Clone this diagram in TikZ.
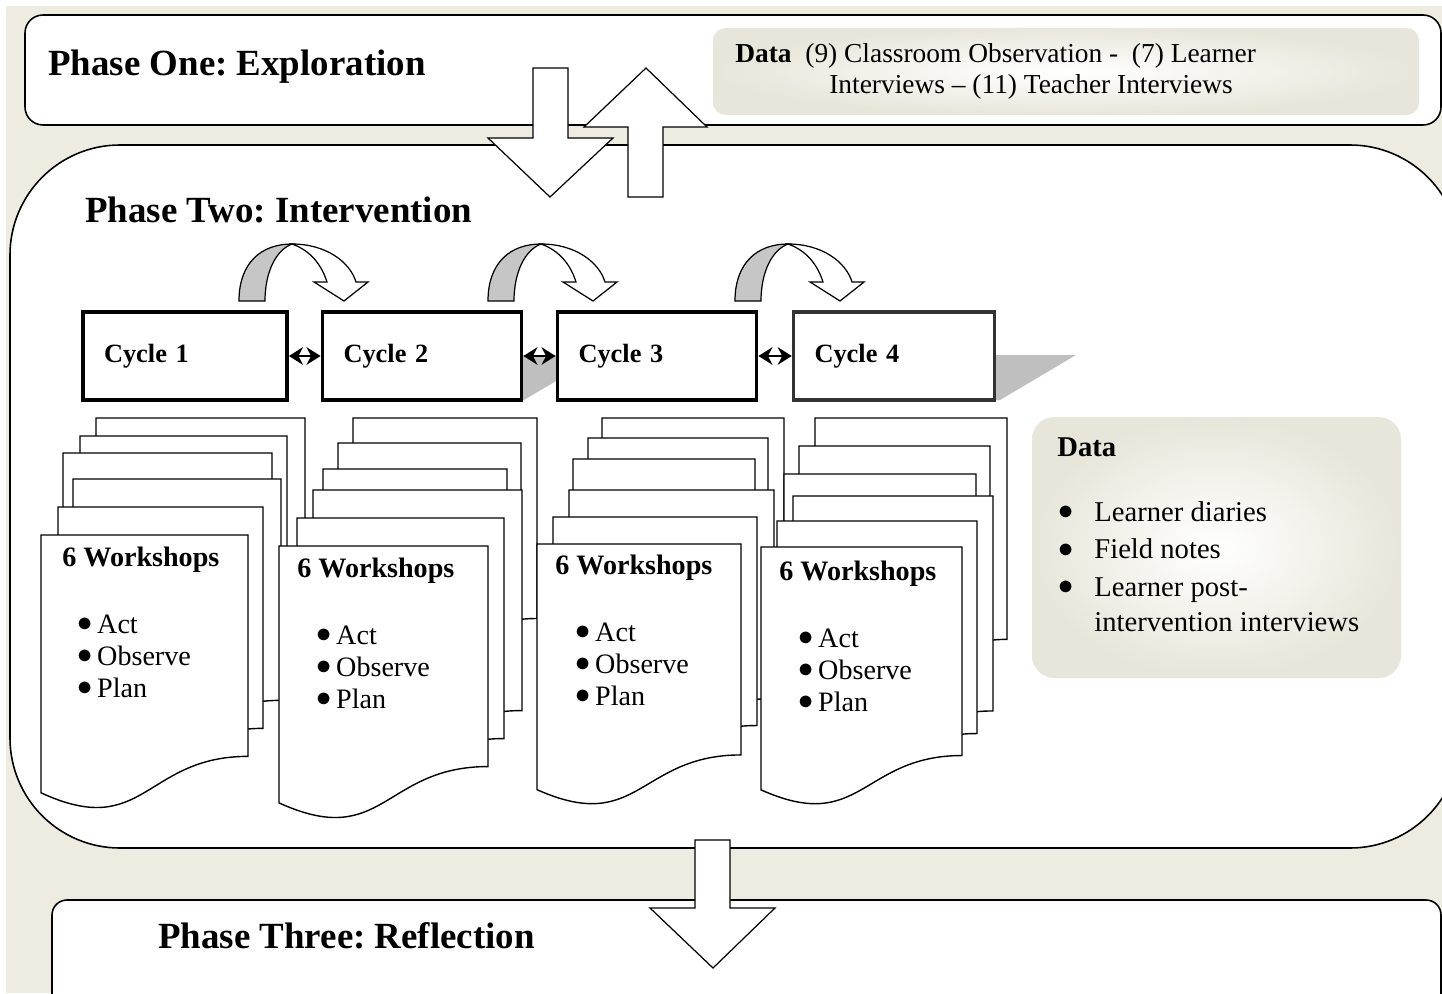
\documentclass[tikz,border=0pt]{standalone}
\usepackage{fontspec}
\setmainfont{Liberation Serif}
\usetikzlibrary{positioning,arrows.meta}
\frenchspacing
\definecolor{tanbg}{HTML}{EEECE1}
\definecolor{tandata}{HTML}{E8E6DA}
\definecolor{ribbon}{HTML}{C6C6C6}
\definecolor{shadowgray}{HTML}{BFBFBF}
\tikzset{
  phasebox/.style={draw,fill=white,line width=0.9pt},
  phasetext/.style={anchor=base west,inner sep=0pt,font=\fontsize{21}{24}\selectfont\bfseries},
  blockarrow/.style={draw,fill=white,line width=0.7pt,line join=miter},
  cyclebox/.style={draw,fill=white,line width=2.2pt,minimum height=1.76cm,inner xsep=0.42cm,align=left,font=\fontsize{15}{18}\selectfont\bfseries},
  page/.style={draw,fill=white,line width=0.8pt},
  wstitle/.style={anchor=base west,inner sep=0pt,font=\fontsize{16}{19}\selectfont\bfseries},
  wsitem/.style={anchor=base west,inner sep=0pt,font=\fontsize{16}{19}\selectfont},
  datatext/.style={anchor=base west,inner sep=0pt,font=\fontsize{15.6}{18}\selectfont},
  dataitem/.style={anchor=base west,inner sep=0pt,font=\fontsize{16.3}{19}\selectfont}
}
% one page of a workshop stack: x, y (top left), width, height
\newcommand\docpage[4]{\draw[page] (#1,#2) -- ({#1+#3},#2) -- ({#1+#3},{#2+0.802*#4})
  .. controls ({#1+0.5*#3},{#2+0.802*#4}) and ({#1+0.5*#3},{#2+1.1075*#4}) .. (#1,{#2+0.934*#4}) -- cycle;}
\newcommand\wsbullet{\raisebox{0.1ex}{$\bullet$}}
\begin{document}
\begin{tikzpicture}[x=0.02cm,y=-0.02cm,>={Stealth[length=8pt,width=10pt]}]
    \useasboundingbox (0,0) rectangle (1442,993);
    \clip (0,0) rectangle (1442,993);
    \fill[tanbg] (6,6) rectangle (1442,993);
    % phases
    \draw[phasebox,rounded corners=0.36cm] (25,15) rectangle (1441,125);
    \shade[inner color=white,outer color=tandata,rounded corners=0.25cm] (713,28) rectangle (1419,115);
    \draw[phasebox,rounded corners=2.2cm] (10,145) rectangle (1460,848);
    \draw[phasebox,rounded corners=0.3cm] (52,900) rectangle (1441,1020);
    \node[phasetext] (p1) at (48,76) {Phase One: Exploration};
    \node[phasetext] (p2) at (85,222) {Phase Two: Intervention};
    \node[phasetext] (p3) at (158,948) {Phase Three: Reflection};
    \node[datatext] (data1) at (735,63) {\textbf{Data}\ \ (9) Classroom Observation -\ \ (7) Learner};
    \node[datatext] (data1b) at (829,94) {Interviews -- (11) Teacher Interviews};
    % block arrows between phases
    \draw[blockarrow] (533,68)--(568,68)--(568,138)--(613,138)--(550,197)--(488,138)--(533,138)--cycle;
    \draw[blockarrow] (628,197)--(663,197)--(663,127)--(707,127)--(646,68)--(584,127)--(628,127)--cycle;
    \draw[blockarrow] (695,840)--(730,840)--(730,908)--(775,908)--(713,968)--(650,908)--(695,908)--cycle;
    % curved arrows over the cycles
    \foreach \dx in {0,249,496}{
      \begin{scope}[shift={(\dx,0)}]
        \filldraw[fill=ribbon,line width=0.7pt] (239,301) .. controls (239,262) and (262,244) .. (292,244)
          .. controls (276,250) and (265,272) .. (265,301) -- cycle;
        \filldraw[fill=white,line width=0.7pt] (292,244) .. controls (326,244) and (350,262) .. (356,282)
          -- (368,282) -- (344,301) -- (314,282) -- (327,282) .. controls (321,263) and (309,250) .. (292,244) -- cycle;
      \end{scope}}
    % shadows
    \fill[shadowgray] (470,355)--(600,355)--(524,400)--(470,400)--cycle;
    \fill[shadowgray] (940,355)--(1076,355)--(1000,400)--(940,400)--cycle;
    % cycles
    \node[cyclebox,text width=3.24cm] (c1) at (185,356) {Cycle 1};
    \node[cyclebox,text width=3.14cm] (c2) at (422,356) {Cycle 2};
    \node[cyclebox,text width=3.14cm] (c3) at (657,356) {Cycle 3};
    \node[cyclebox,text width=3.18cm,draw=black!80,line width=2pt] (c4) at (894,356) {Cycle 4};
    \draw[<->,line width=1.3pt] (c1) -- (c2);
    \draw[<->,line width=1.3pt] (c2) -- (c3);
    \draw[<->,line width=1.3pt] (c3) -- (c4);
    % workshop stacks, back to front
    \foreach \x/\y/\w/\h in {96/418/209/276,80/436/207/276,63/453/209/276,73/479/208/276,58/507/205/276,41/535/207/276,
        353/418/184/250,338/443/183/265,323/469/184/270,313/490/209/275,297/518/207/275,279/546/209/275,
        602/418/182/262,588/438/180/262,573/459/182/262,569/490/205/260,553/517/204/260,537/544/204/263,
        815/418/192/276,799/446/191/272,784/474/192/270,793/496/200/268,777/521/200/265,761/547/201/260}
      \docpage{\x}{\y}{\w}{\h};
    \foreach \n/\tx/\ty/\bx in {1/62/566/77,2/297/577/316,3/555/574/575,4/779/580/798}{
      \node[wstitle] (ws\n) at (\tx,\ty) {6 Workshops};
      \foreach \txt [count=\k] in {Act,Observe,Plan}
        \node[wsitem] (ws\n-\k) at (\bx,{\ty+67+32*(\k-1)}) {\wsbullet\,\txt};
    }
    % data of phase two
    \shade[inner color=white,outer color=tandata,rounded corners=0.45cm] (1032,417) rectangle (1401,678);
    \node[dataitem,font=\fontsize{16.3}{19}\selectfont\bfseries] (data2) at (1057,456) {Data};
    \foreach \txt [count=\k] in {Learner diaries,Field notes,Learner post-}{
      \node[dataitem] (bul\k) at (1058,{521+37.5*(\k-1)}) {\wsbullet};
      \node[dataitem] (item\k) at (1094,{521+37.5*(\k-1)}) {\txt};
    }
    \node[dataitem] (item4) at (1094,631) {intervention interviews};
\end{tikzpicture}
\end{document}
